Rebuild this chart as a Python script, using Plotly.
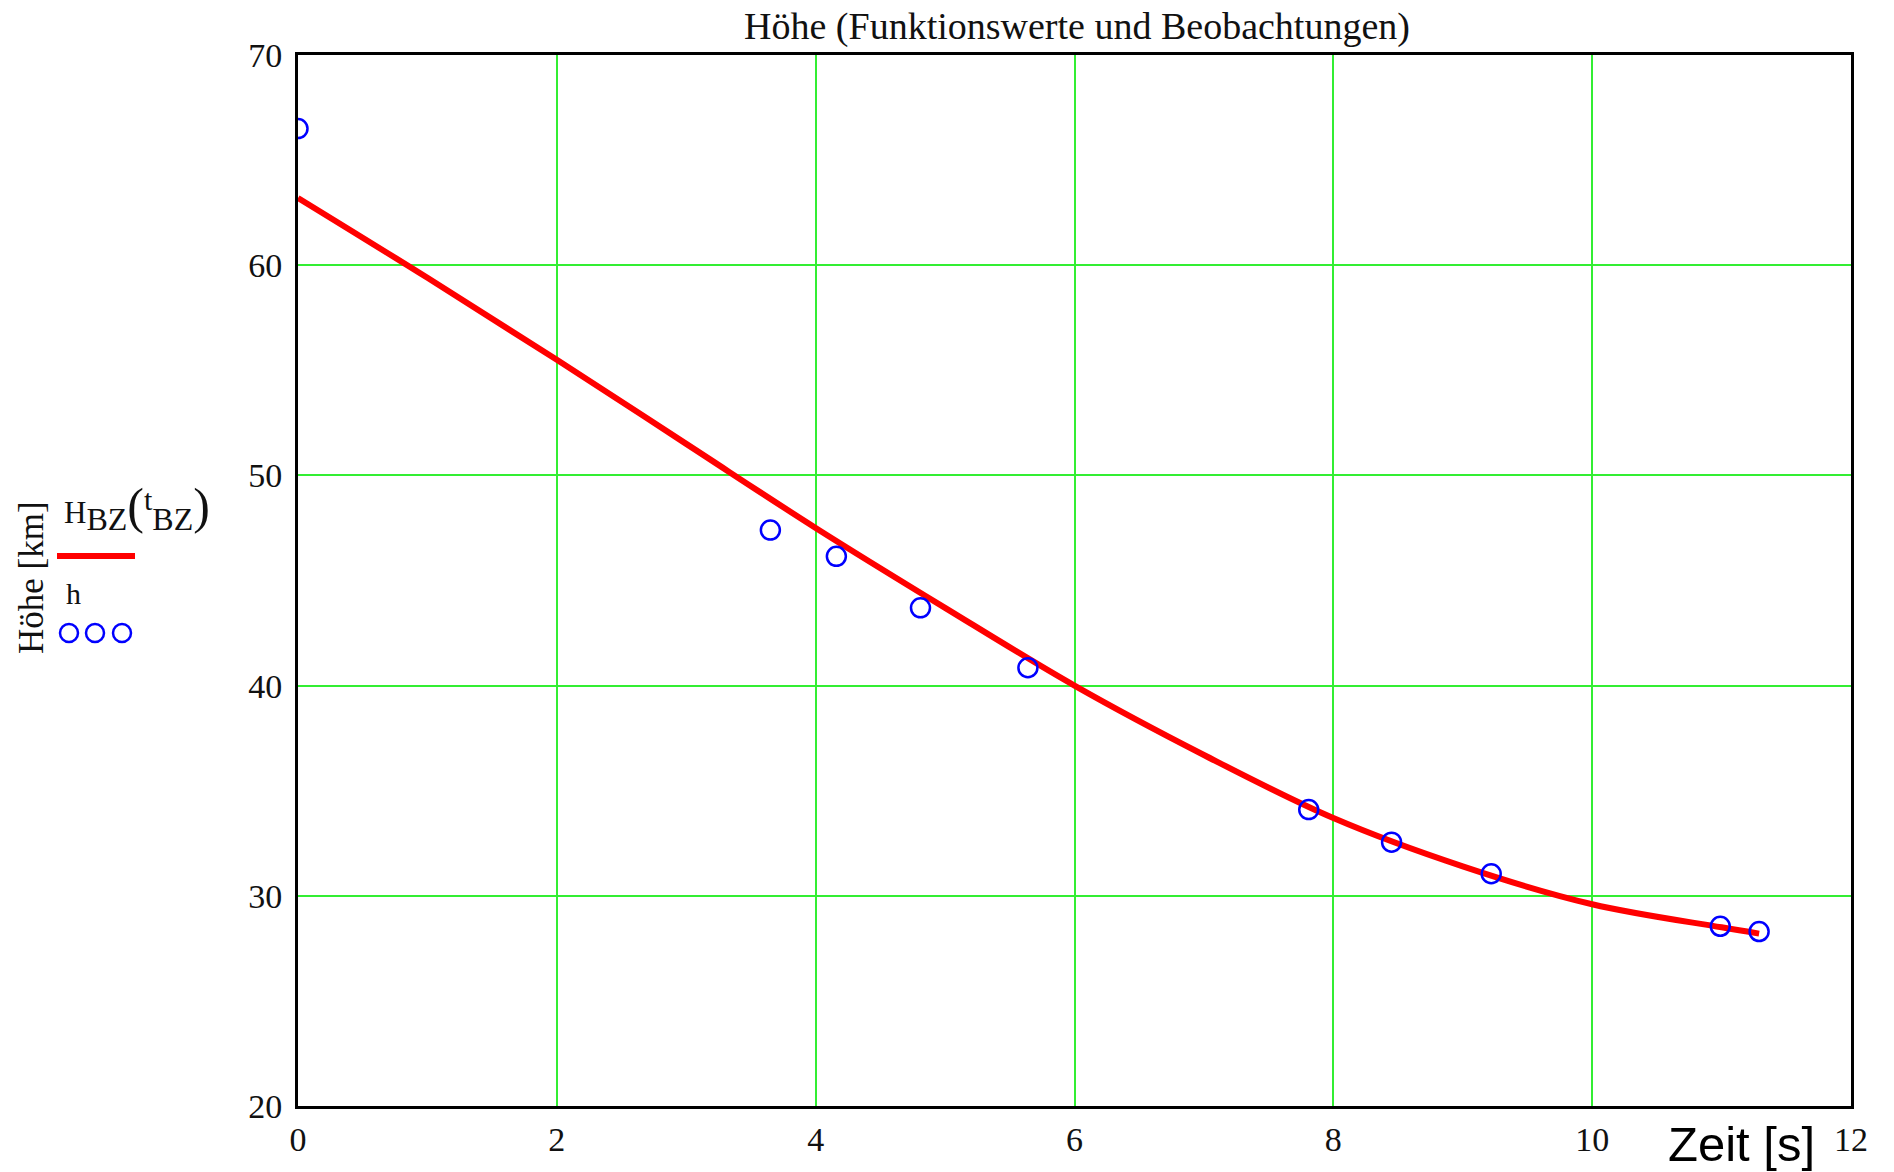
import plotly.graph_objects as go

# Observations h (time [s], height [km])
obs_t = [0.0, 3.65, 4.16, 4.81, 5.64, 7.81, 8.45, 9.22, 10.99, 11.29]
obs_h = [66.5, 47.4, 46.15, 43.7, 40.85, 34.1, 32.55, 31.05, 28.55, 28.3]

# Function values H_BZ(t_BZ)
fit_t = [0, 1, 2, 3, 4, 5, 6, 7, 8, 9, 10, 11, 11.29]
fit_h = [63.2, 59.4, 55.5, 51.5, 47.5, 43.7, 40.0, 36.7, 33.7, 31.4, 29.6, 28.5, 28.2]

x_ticks = [0, 2, 4, 6, 8, 10, 12]
y_ticks = [20, 30, 40, 50, 60, 70]

SERIF = "Liberation Serif, Times New Roman, serif"
SANS = "Liberation Sans, Arial, sans-serif"

OFF = 8  # page body margin

fig = go.Figure()
fig.add_trace(go.Scatter(x=fit_t, y=fit_h, mode="lines", line=dict(color="#ff0000", width=6, shape="spline"),
                         showlegend=False, hoverinfo="skip"))
fig.add_trace(go.Scatter(x=obs_t, y=obs_h, mode="markers",
                         marker=dict(symbol="circle-open", size=19, color="#0000ff", line=dict(width=2.5, color="#0000ff")),
                         showlegend=False, cliponaxis=True))

axis_common = dict(showline=True, linecolor="black", linewidth=3, mirror=True,
                   showgrid=True, gridcolor="#33ee33", gridwidth=1.5, zeroline=False,
                   ticks="", tickfont=dict(family=SERIF, size=34, color="#111111"))
fig.update_xaxes(range=[0, 12], tickvals=x_ticks, ticktext=[str(v) for v in x_ticks], ticklabelstandoff=1, **axis_common)
fig.update_yaxes(range=[20, 70], tickvals=y_ticks, ticktext=[str(v) for v in y_ticks], ticklabelstandoff=6, **axis_common)

def px(x):
    return (x - 298) / 1553

def py(y):
    return (1106 - y) / 1051

shapes = [dict(type="line", xref="paper", yref="paper", x0=px(57), x1=px(135), y0=py(556), y1=py(556),
               line=dict(color="#ff0000", width=6))]
for cx in [69, 95, 122]:
    shapes.append(dict(type="circle", xref="paper", yref="paper", xsizemode="pixel", ysizemode="pixel",
                       xanchor=px(cx), yanchor=py(633), x0=-9, x1=9, y0=-9, y1=9,
                       line=dict(color="#0000ff", width=2.5)))

legend_text = ("H<sub><span style='font-size:32px'>BZ</span></sub>"
               "<span style='font-size:50px'>(</span>"
               "<sup><span style='font-size:30px'>t</span></sup>"
               "<sub><span style='font-size:32px'>BZ</span></sub>"
               "<span style='font-size:50px'>)</span>")

annotations = [
    dict(text=legend_text,
         xref="paper", yref="paper", x=px(62), y=py(508), xanchor="left", yanchor="middle",
         showarrow=False, font=dict(family=SERIF, size=31, color="#111111")),
    dict(text="h", xref="paper", yref="paper", x=px(64), y=py(594), xanchor="left", yanchor="middle",
         showarrow=False, font=dict(family=SERIF, size=30, color="#111111")),
    dict(text="Höhe [km]", xref="paper", yref="paper", x=px(31), y=py(578), textangle=-90,
         xanchor="center", yanchor="middle", showarrow=False, font=dict(family=SERIF, size=35, color="#111111")),
    dict(text="Zeit [s]", xref="paper", yref="paper", x=px(1741), y=py(1144), xanchor="center", yanchor="middle",
         showarrow=False, font=dict(family=SANS, size=49, color="black")),
]

fig.update_layout(
    width=1894, height=1172,
    margin=dict(l=298 - OFF, r=43 + OFF, t=55 - OFF, b=66 + OFF),
    paper_bgcolor="white", plot_bgcolor="white",
    title=dict(text="Höhe (Funktionswerte und Beobachtungen)", x=(1077 - OFF) / 1894,
               xref="container", xanchor="center", y=1 - (26 - OFF) / 1172, yref="container", yanchor="middle",
               font=dict(family=SERIF, size=38, color="#111111")),
    shapes=shapes, annotations=annotations, showlegend=False,
)

fig.write_html("out.html")
